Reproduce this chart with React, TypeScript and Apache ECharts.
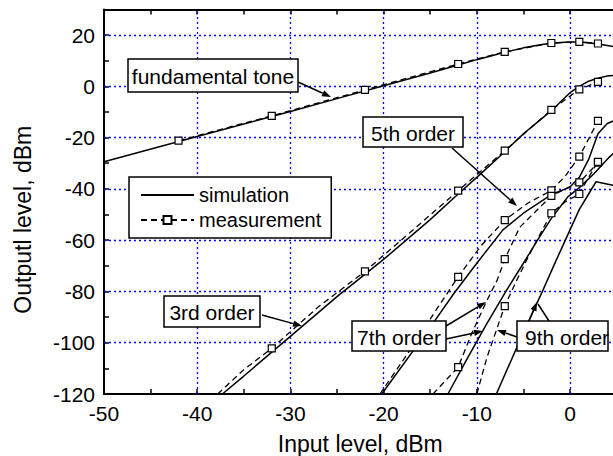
import React, { useEffect, useRef } from "react";
import * as echarts from "echarts";

// ---- data ----
const markerX = [-42, -32, -22, -12, -7, -2, 1, 3];

const fundSimX = [-50, -40, -30, -25, -20, -15, -12, -10, -7, -5, -3, -2, -1, 0, 1, 2, 3, 4, 5];
const fundSimY = [-29.4, -19.6, -9.8, -4.8, 0.2, 5.2, 8.3, 10.4, 13.3, 15.0, 16.3, 16.8, 17.1, 17.3, 17.3, 17.0, 16.5, 15.9, 15.3];
const fundMeasX = [-42, -32, -22, -12, -7, -2, 1, 3];
const fundMeasY = [-21.2, -11.5, -1.4, 8.7, 13.4, 16.9, 17.3, 16.7];

const ord3SimX = [-37.3, -35, -30, -25, -20, -15, -12, -10, -7, -5, -3, -2, -1, 0, 1, 2, 3, 4, 5];
const ord3SimY = [-120, -113, -97.5, -82, -67.5, -52, -42, -35.5, -25.5, -18.5, -12.5, -9.5, -6, -2.5, 0, 2, 3.2, 4, 4.4];
const ord3MeasX = [-37.8, -35, -32, -27, -22, -17, -12, -7, -2, 1, 3];
const ord3MeasY = [-120, -110.5, -102.2, -86, -72.2, -56.5, -40.7, -25.1, -9.2, -1.2, 1.7];

const ord5SimX = [-20.2, -15, -12.5, -10, -7.2, -5, -2, 0, 1, 2, 3, 4, 5];
const ord5SimY = [-120, -94, -81, -69, -56, -49.5, -42.2, -39.3, -35.5, -28.5, -18.5, -14.5, -13];
const ord5MeasX = [-20.4, -17, -14.5, -12, -9.5, -7, -4.5, -2, -0.5, 1, 2, 3];
const ord5MeasY = [-120, -102, -88, -74.3, -62, -52.2, -45.5, -40.6, -35, -27.4, -20.5, -13.5];

const ord7SimX = [-13.1, -11, -9, -6.8, -5, -3.4, -2, -0.2, 1, 2.6, 4.25, 5];
const ord7SimY = [-120, -106, -93, -79.5, -69, -59.5, -51.5, -43, -39.5, -34, -27.5, -25];
const ord7MeasX = [-14.7, -12, -10.5, -8.9, -7.8, -7, -5.4, -2, -0.5, 1, 3];
const ord7MeasY = [-120, -109.5, -96, -83.4, -75.5, -67.4, -55, -42.7, -40, -37.5, -29.8];

const ord9SimX = [-7.9, -5, -2.9, -1.5, 0, 1, 2, 2.8, 4.6, 5];
const ord9SimY = [-120, -96, -79.5, -68, -56, -48, -42, -37.2, -38.6, -39];
const ord9MeasX = [-10, -8.9, -7, -5.7, -4, -2, -0.5, 1, 2, 3];
const ord9MeasY = [-120, -105.6, -85.7, -75.5, -63, -49.5, -45, -42, -35.5, -29.5];

const gridXValues = [-40, -30, -20, -10, 0];
const gridYValues = [-100, -80, -60, -40, -20, 0, 20];

const FONT = "'Liberation Sans', Arial, Helvetica, sans-serif";

function zip(xs: number[], ys: number[]) {
  return xs.map((x, i) => [x, ys[i]]);
}
function measData(xs: number[], ys: number[]) {
  return xs.map((x, i) => ({
    value: [x, ys[i]],
    symbol: markerX.includes(x) ? "rect" : "none",
  }));
}

function simSeries(xs: number[], ys: number[], extra: any = {}) {
  return {
    name: "simulation",
    type: "line",
    data: zip(xs, ys),
    symbol: "none",
    showSymbol: false,
    smooth: false,
    silent: true,
    lineStyle: { color: "#000", width: 1.5, type: "solid" },
    itemStyle: { color: "#000" },
    z: 3,
    ...extra,
  };
}
function measSeries(xs: number[], ys: number[]) {
  return {
    name: "measurement",
    type: "line",
    data: measData(xs, ys),
    symbol: "rect",
    symbolSize: 7,
    showSymbol: true,
    smooth: false,
    silent: true,
    lineStyle: { color: "#000", width: 1.3, type: [6, 4] },
    itemStyle: { color: "#fff", borderColor: "#000", borderWidth: 1.2 },
    z: 4,
  };
}

function arrow(x1: number, y1: number, x2: number, y2: number, len = 9, w = 3.2) {
  const dx = x2 - x1;
  const dy = y2 - y1;
  const L = Math.hypot(dx, dy);
  const ux = dx / L;
  const uy = dy / L;
  const bx = x2 - ux * len;
  const by = y2 - uy * len;
  return [
    { type: "line", shape: { x1, y1, x2: bx, y2: by }, style: { stroke: "#000", lineWidth: 1.5 } },
    {
      type: "polygon",
      shape: { points: [[x2, y2], [bx - uy * w, by + ux * w], [bx + uy * w, by - ux * w]] },
      style: { fill: "#000" },
    },
  ];
}
function box(x: number, y: number, w: number, h: number, text: string, tx?: number) {
  return [
    { type: "rect", shape: { x, y, width: w, height: h }, style: { fill: "#fff", stroke: "#000", lineWidth: 1.5 } },
    {
      type: "text",
      style: {
        text,
        x: tx !== undefined ? tx : x + w / 2,
        y: y + h / 2 + 1,
        fontSize: 21,
        fontFamily: FONT,
        fill: "#000",
        textAlign: tx !== undefined ? "left" : "center",
        textVerticalAlign: "middle",
      },
    },
  ];
}

export default function App() {
  const ref = useRef<HTMLDivElement>(null);
  useEffect(() => {
    if (!ref.current) return;
    const chart = echarts.init(ref.current, undefined, { renderer: "svg" });
    const axisCommon = {
      type: "value",
      axisLine: { show: true, onZero: false, lineStyle: { color: "#000", width: 2 } },
      axisTick: { show: true, inside: true, length: 5, lineStyle: { color: "#000", width: 1.5 } },
      splitLine: { show: false },
    };
    const graphics: any[] = [
      ...arrow(298, 82, 331, 97),
      ...box(128, 59, 170, 33, "fundamental tone"),
      ...arrow(452, 148, 517, 206),
      ...box(363, 117, 100, 30, "5th order"),
      ...arrow(262, 315, 302, 326),
      ...box(164, 296, 96, 31, "3rd order"),
      ...arrow(446, 326, 486, 302),
      ...arrow(446, 339, 483, 331),
      ...box(352, 321, 94, 30, "7th order"),
      ...arrow(529, 321, 537, 302),
      { type: "line", shape: { x1: 538, y1: 304, x2: 549, y2: 321 }, style: { stroke: "#000", lineWidth: 1.5 } },
      ...arrow(517, 337, 497, 330),
      ...box(517, 321, 91, 30, "9th order", 525),
    ];
    chart.setOption({
      animation: false,
      backgroundColor: "#fff",
      textStyle: { fontFamily: FONT },
      grid: {
        left: 104,
        top: 9.4,
        width: 512.6,
        height: 384.6,
        containLabel: false,
        outerBoundsMode: "none",
      },
      legend: {
        data: [
          { name: "simulation", itemStyle: { color: "transparent", borderWidth: 0, opacity: 0 } },
          { name: "measurement" },
        ],
        orient: "vertical",
        left: 129,
        top: 177,
        padding: [8, 10, 8, 11],
        itemGap: 5,
        itemWidth: 53,
        itemHeight: 10,
        backgroundColor: "#fff",
        borderColor: "#000",
        borderWidth: 1.5,
        borderRadius: 0,
        selectedMode: false,
        textStyle: { fontSize: 20, color: "#000", fontFamily: FONT },
        z: 10,
      },
      xAxis: [
        {
          ...axisCommon,
          position: "bottom",
          min: -50,
          max: 5,
          interval: 5,
          name: "Input level, dBm",
          nameLocation: "middle",
          nameGap: 38,
          nameTextStyle: { fontSize: 23, color: "#000", fontFamily: FONT },
          axisLabel: {
            show: true,
            margin: 9,
            fontSize: 21,
            color: "#000",
            fontFamily: FONT,
            showMaxLabel: false,
            formatter: (v: number) => (v % 10 === 0 ? String(v) : ""),
          },
        },
        {
          ...axisCommon,
          position: "top",
          min: -50,
          max: 5,
          interval: 5,
          axisLabel: { show: false },
        },
      ],
      yAxis: [
        {
          ...axisCommon,
          position: "left",
          min: -120,
          max: 30,
          interval: 10,
          name: "Outputl level, dBm",
          nameLocation: "middle",
          nameGap: 70,
          nameTextStyle: { fontSize: 23, color: "#000", fontFamily: FONT, padding: [0, 36, 0, 0] },
          axisLabel: {
            show: true,
            margin: 9,
            fontSize: 21,
            color: "#000",
            fontFamily: FONT,
            showMaxLabel: false,
            formatter: (v: number) => (v % 20 === 0 ? String(v) : ""),
          },
        },
      ],
      series: [
        simSeries(fundSimX, fundSimY, {
          markLine: {
            silent: true,
            z: 1,
            symbol: ["none", "none"],
            label: { show: false },
            lineStyle: { color: "#0000ff", type: [2, 3], width: 1.3 },
            emphasis: { disabled: true },
            data: [
              ...gridXValues.map((v) => ({ xAxis: v })),
              ...gridYValues.map((v) => ({ yAxis: v })),
            ],
          },
        }),
        measSeries(fundMeasX, fundMeasY),
        simSeries(ord3SimX, ord3SimY),
        measSeries(ord3MeasX, ord3MeasY),
        simSeries(ord5SimX, ord5SimY),
        measSeries(ord5MeasX, ord5MeasY),
        simSeries(ord7SimX, ord7SimY),
        measSeries(ord7MeasX, ord7MeasY),
        simSeries(ord9SimX, ord9SimY),
        measSeries(ord9MeasX, ord9MeasY),
      ],
      graphic: graphics.map((g) => ({ ...g, z: 100, silent: true })),
    });
    return () => chart.dispose();
  }, []);
  return (
    <div
      ref={ref}
      style={{ position: "fixed", left: 0, top: 0, width: 613, height: 456, background: "#fff" }}
    />
  );
}
